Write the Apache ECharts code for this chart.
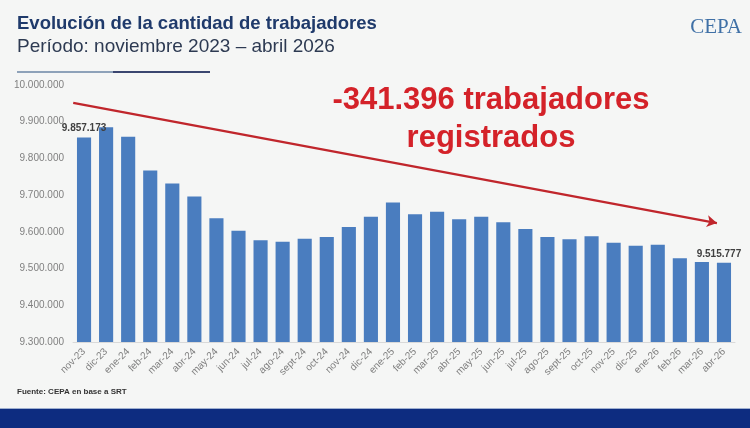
<!DOCTYPE html>
<html>
<head>
<meta charset="utf-8">
<script src="https://cdn.jsdelivr.net/npm/echarts@6/dist/echarts.min.js"></script>
<style>
html,body{margin:0;padding:0;background:#f5f6f5;}
#c{width:750px;height:428px;}
</style>
</head>
<body>
<div id="c"></div>
<script>
const categories = ['nov-23','dic-23','ene-24','feb-24','mar-24','abr-24','may-24','jun-24','jul-24','ago-24','sept-24','oct-24','nov-24','dic-24','ene-25','feb-25','mar-25','abr-25','may-25','jun-25','jul-25','ago-25','sept-25','oct-25','nov-25','dic-25','ene-26','feb-26','mar-26','abr-26'];
const workers = [9857173,9885000,9859000,9767000,9732000,9696000,9637000,9603000,9577000,9573000,9581000,9586000,9613000,9641000,9680000,9648000,9655000,9634000,9641000,9626000,9608000,9586000,9580000,9588000,9570000,9562000,9565000,9528000,9518000,9515777];
const yTicks = [9300000, 10000000, 100000]; // min, max, interval
const trendX = [-0.49, 28.68];
const trendY = [9951000, 9624000];
const labelledIdx = [0, 29];

function fmt(v){ return String(Math.round(v)).replace(/\B(?=(\d{3})+(?!\d))/g,'.'); }

const chart = echarts.init(document.getElementById('c'));
chart.setOption({
  backgroundColor:'#f5f6f5',
  animation:false,
  grid:{left:73,right:15,top:85,bottom:86},
  xAxis:[{
    type:'category', data:categories,
    axisLine:{show:true,lineStyle:{color:'#d9d9d9'}},
    axisTick:{show:false},
    axisLabel:{interval:0,rotate:45,color:'#7f7f7f',fontSize:10,fontFamily:'Liberation Sans, Arial',margin:8}
  },{
    type:'value', min:-0.5, max:29.5, show:false
  }],
  yAxis:{
    type:'value', min:yTicks[0], max:yTicks[1], interval:yTicks[2],
    axisLine:{show:false}, axisTick:{show:false}, splitLine:{show:false},
    axisLabel:{color:'#808080',fontSize:10,fontFamily:'Liberation Sans, Arial',margin:9,formatter:fmt}
  },
  series:[{
    type:'bar', data:workers.map((v,i)=>i===labelledIdx[1]?{value:v,label:{offset:[-5,0]}}:v), barWidth:'64%',
    itemStyle:{color:'#4a7dbf'},
    label:{show:true,position:'top',distance:4,fontSize:10,fontWeight:'bold',color:'#404040',fontFamily:'Liberation Sans, Arial',
      formatter:p=>labelledIdx.indexOf(p.dataIndex)>=0?fmt(p.value):''}
  },{
    type:'line', xAxisIndex:1, yAxisIndex:0,
    data:[[trendX[0],trendY[0]],[trendX[1],trendY[1]]],
    symbol:'none', lineStyle:{opacity:0}, silent:true,
    markLine:{
      silent:true, symbol:['none','arrow'], symbolSize:[9,10],
      lineStyle:{color:'#c0262c',width:2.3,type:'solid'},
      label:{show:false},
      data:[[{coord:[trendX[0],trendY[0]]},{coord:[trendX[1],trendY[1]]}]]
    }
  }],
  graphic:[
    {type:'text',left:17,top:14,style:{text:'Evolución de la cantidad de trabajadores',font:'bold 18.5px "Liberation Sans", Arial',fill:'#1f3a6b'}},
    {type:'text',left:17,top:37,style:{text:'Período: noviembre 2023 – abril 2026',font:'19px "Liberation Sans", Arial',fill:'#2d3a52'}},
    {type:'rect',shape:{x:17,y:71,width:96,height:2},style:{fill:'#8ea2b9'}},
    {type:'rect',shape:{x:113,y:71,width:97,height:2},style:{fill:'#3a4670'}},
    {type:'text',right:8,top:17,style:{text:'CEPA',font:'21px "Liberation Serif", serif',fill:'#3f70a6'}},
    {type:'text',style:{x:491,y:119,text:'-341.396 trabajadores\nregistrados',font:'bold 31px "Liberation Sans", Arial',fill:'#d42229',align:'center',verticalAlign:'middle',lineHeight:38}},
    {type:'text',left:17,top:388,style:{text:'Fuente: CEPA en base a SRT',font:'bold 8px "Liberation Sans", Arial',fill:'#333333'}},
    {type:'rect',shape:{x:0,y:409,width:750,height:19},style:{fill:'#0d2c80'}},
    {type:'rect',shape:{x:0,y:408,width:750,height:1},style:{fill:'#9fb0d0'}}
  ]
});
</script>
</body>
</html>
